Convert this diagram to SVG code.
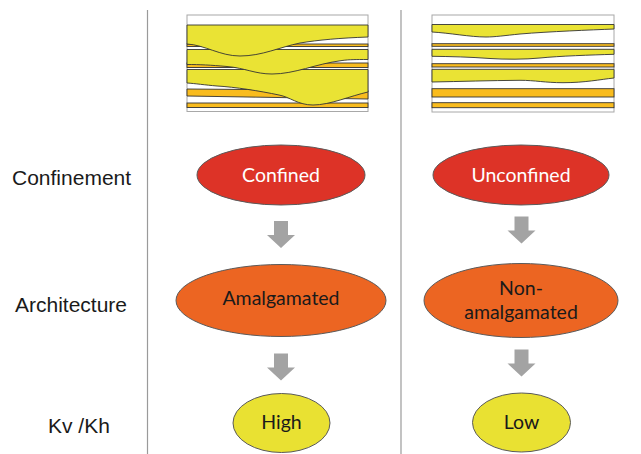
<svg xmlns="http://www.w3.org/2000/svg" width="641" height="454" viewBox="0 0 641 454">
  <style>
    .row-label { font-family: "Liberation Sans", Arial, sans-serif; font-size: 21px; fill: #1a1a1a; }
    .node-text { font-family: Lato, "Open Sans", sans-serif; font-size: 19.5px; text-anchor: middle; }
    .light { fill: #ffffff; }
    .dark { fill: #1a1a1a; }
    .red { fill: #dd3327; stroke: #5a5a5a; stroke-width: 1; }
    .orange { fill: #ec6522; stroke: #5a5a5a; stroke-width: 1; }
    .yellow { fill: #e9e132; stroke: #5a5a5a; stroke-width: 1; }
    .divider { stroke: #9a9a9a; stroke-width: 1.2; fill: none; }
    .frame { fill: #ffffff; stroke: #a8a8a8; stroke-width: 1; }
    .sand { fill: #eae334; stroke: #333333; stroke-width: 0.9; }
    .silt { fill: #f9bc1e; stroke: #333333; stroke-width: 0.9; }
    .arrow { fill: #a3a3a3; }
  </style>
  <defs>
    <path id="down-arrow" d="M-7,0 H7 V14 H14 L0,27 L-14,14 H-7 Z"/>
  </defs>

  <rect width="641" height="454" fill="#ffffff"/>

  <!-- column dividers -->
  <g id="dividers">
    <line class="divider" x1="147.5" y1="10" x2="147.5" y2="454"/>
    <line class="divider" x1="401" y1="10" x2="401" y2="454"/>
  </g>

  <!-- row labels -->
  <g id="labels">
    <text class="row-label" x="12" y="185">Confinement</text>
    <text class="row-label" x="15" y="311.5">Architecture</text>
    <text class="row-label" x="48" y="432.5">Kv /Kh</text>
  </g>

  <!-- confined stacking: younger sand bodies cut down into older beds -->
  <g id="section-confined">
    <rect class="frame" x="187" y="15" width="181" height="96.5"/>
    <rect class="silt" x="187" y="103" width="181" height="4.5"/>
    <path class="silt" d="M187,89 L368,90.5 L368,99 L187,96 Z"/>
    <path class="sand" d="M187,69.5 H368 V92 C350,96 330,105 313,105 C298,105 290,97 279,95 C260,91 235,87 217,86 C205,85 195,83.5 187,83 Z"/>
    <rect class="silt" x="187" y="63" width="181" height="4.5"/>
    <path class="sand" d="M187,49.5 H368 V59.5 C355,59.5 350,59.5 342,60.5 C315,64 295,74 272,74 C255,74 245,68 227,66.5 C210,65 200,64.5 187,64.5 Z"/>
    <rect class="silt" x="187" y="44" width="181" height="2.5"/>
    <path class="sand" d="M187,25 H368 V37 C340,38 318,40 300,43 C280,47 262,56 240,56 C220,56 205,45 187,44 Z"/>
  </g>

  <!-- unconfined stacking: sand bodies separated by continuous fine beds -->
  <g id="section-unconfined">
    <rect class="frame" x="432" y="15" width="182" height="97"/>
    <rect class="silt" x="432" y="102.7" width="182" height="5"/>
    <rect class="silt" x="432" y="88.7" width="182" height="8.3"/>
    <path class="sand" d="M432,69.3 H614 V78 C600,79.5 585,82.7 563,82.7 C545,82.7 535,80.3 520,80.3 C490,80.5 460,81.5 432,82 Z"/>
    <rect class="silt" x="432" y="63.7" width="182" height="3.3"/>
    <path class="sand" d="M432,49.3 H614 V54.3 C590,55 560,56 540,58 C525,59.5 505,59.5 490,58.5 C470,57 450,56.5 432,56.3 Z"/>
    <rect class="silt" x="432" y="43.7" width="182" height="2.6"/>
    <path class="sand" d="M432,24.5 H614 V29 C590,30 550,31.5 520,34 C505,35.5 495,37 486,37 C470,37 450,33 432,32 Z"/>
  </g>

  <!-- nodes -->
  <g id="node-confined">
    <ellipse class="red" cx="281" cy="175" rx="84" ry="30"/>
    <text class="node-text light" x="281" y="182">Confined</text>
  </g>
  <g id="node-unconfined">
    <ellipse class="red" cx="521" cy="175" rx="88" ry="30"/>
    <text class="node-text light" x="521" y="182">Unconfined</text>
  </g>
  <g id="node-amalgamated">
    <ellipse class="orange" cx="281" cy="300.5" rx="105" ry="36"/>
    <text class="node-text dark" x="281" y="305">Amalgamated</text>
  </g>
  <g id="node-non-amalgamated">
    <ellipse class="orange" cx="521" cy="300.5" rx="97" ry="37"/>
    <text class="node-text dark" x="521" y="295">Non-</text>
    <text class="node-text dark" x="521" y="318.5">amalgamated</text>
  </g>
  <g id="node-high">
    <ellipse class="yellow" cx="281.5" cy="423" rx="48.5" ry="29.5"/>
    <text class="node-text dark" x="281.5" y="428.5">High</text>
  </g>
  <g id="node-low">
    <ellipse class="yellow" cx="521.5" cy="422.5" rx="49" ry="29.5"/>
    <text class="node-text dark" x="521.5" y="428.5">Low</text>
  </g>

  <!-- connectors -->
  <g id="connectors">
    <use href="#down-arrow" class="arrow" x="281" y="221"/>
    <use href="#down-arrow" class="arrow" x="281" y="353.5"/>
    <use href="#down-arrow" class="arrow" x="521.5" y="216.5"/>
    <use href="#down-arrow" class="arrow" x="521.5" y="349.5"/>
  </g>
</svg>
